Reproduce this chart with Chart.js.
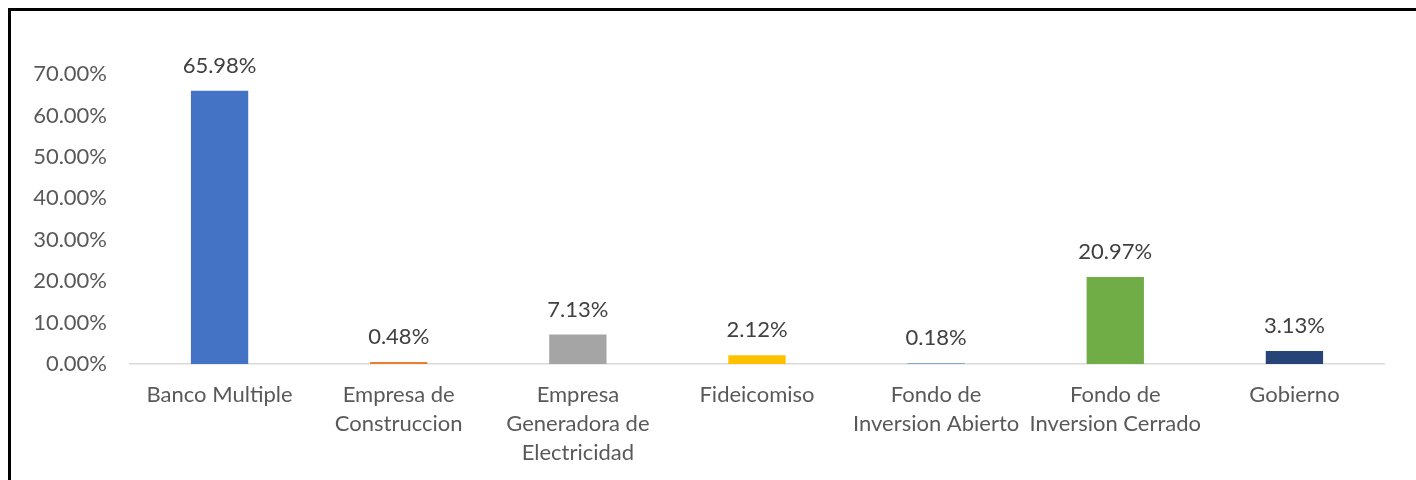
<!DOCTYPE html>
<html>
<head>
<meta charset="utf-8">
<script src="https://cdn.jsdelivr.net/npm/chart.js@4/dist/chart.umd.min.js"></script>
<style>
  html, body { margin: 0; padding: 0; background: #fff; }
  #wrap { position: relative; width: 1416px; height: 480px; }
  #frame { position: absolute; left: 8px; top: 8px; right: -10px; bottom: -10px;
           border-left: 3px solid #000; border-top: 3px solid #000; pointer-events: none; }
</style>
</head>
<body>
<div id="wrap">
  <canvas id="sectorChart" width="1416" height="480"></canvas>
  <div id="frame"></div>
</div>
<script>
const categories = [
    'Banco Multiple',
    ['Empresa de', 'Construccion'],
    ['Empresa', 'Generadora de', 'Electricidad'],
    'Fideicomiso',
    ['Fondo de', 'Inversion Abierto'],
    ['Fondo de', 'Inversion Cerrado'],
    'Gobierno'
];
const shares = [65.98, 0.48, 7.13, 2.12, 0.18, 20.97, 3.13];
const barColors = ['#4472C4', '#ED7D31', '#A5A5A5', '#FFC000', '#5B9BD5', '#70AD47', '#264478'];
const yTicks = [0, 10, 20, 30, 40, 50, 60, 70];

const fontFamily = 'Lato, "Open Sans", sans-serif';

// value labels above each bar
const barLabels = {
    id: 'barLabels',
    afterDatasetsDraw(chart) {
        const ctx = chart.ctx;
        const meta = chart.getDatasetMeta(0);
        ctx.save();
        ctx.font = '22px ' + fontFamily;
        ctx.fillStyle = '#404040';
        ctx.textAlign = 'center';
        ctx.textBaseline = 'middle';
        meta.data.forEach(function(bar, i) {
            ctx.fillText(shares[i].toFixed(2) + '%', bar.x, bar.y - 25);
        });
        ctx.restore();
    }
};

new Chart(document.getElementById('sectorChart'), {
    type: 'bar',
    data: {
        labels: categories,
        datasets: [{
            data: shares,
            backgroundColor: barColors,
            barPercentage: 1,
            categoryPercentage: 0.32
        }]
    },
    options: {
        responsive: false,
        animation: false,
        layout: { padding: { top: 74, right: 32, left: 0, bottom: 0 } },
        plugins: {
            legend: { display: false },
            tooltip: { enabled: false }
        },
        scales: {
            x: {
                grid: { display: false, drawTicks: false },
                border: { color: '#d9d9d9', width: 1.5 },
                ticks: {
                    color: '#595959',
                    font: { family: fontFamily, size: 22, lineHeight: 1.3 },
                    padding: 17,
                    maxRotation: 0,
                    autoSkip: false
                },
                afterFit: function(scale) { scale.height = 116; }
            },
            y: {
                min: 0,
                max: 70,
                grid: { display: false, drawTicks: false },
                border: { display: false },
                afterBuildTicks: function(scale) {
                    scale.ticks = yTicks.map(function(v) { return { value: v }; });
                },
                ticks: {
                    color: '#595959',
                    font: { family: fontFamily, size: 22 },
                    padding: 23,
                    callback: function(value) { return value.toFixed(2) + '%'; }
                },
                afterFit: function(scale) { scale.width = 130; }
            }
        }
    },
    plugins: [barLabels]
});
</script>
</body>
</html>
